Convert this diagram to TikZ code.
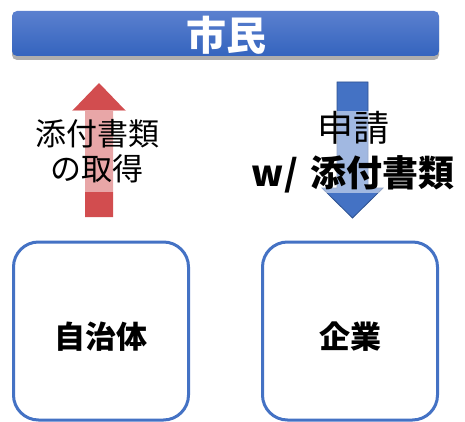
\documentclass[tikz,border=0pt]{standalone}
\usepackage{fontspec}
\newfontfamily\jp{Noto Sans CJK JP}
\usetikzlibrary{shadows}
\definecolor{bannerTop}{HTML}{5B80CF}
\definecolor{bannerBot}{HTML}{3464BE}
\definecolor{arrowRed}{HTML}{D24D4F}
\definecolor{arrowBlue}{HTML}{4472C4}
\definecolor{arrowBlueEdge}{HTML}{2F528F}
\definecolor{boxBlue}{HTML}{4472C4}
\tikzset{
  banner/.style={rounded corners=5pt, top color=bannerTop, bottom color=bannerBot,
    minimum width=427pt, minimum height=45pt, inner sep=0pt,
    drop shadow={shadow xshift=0pt, shadow yshift=-4pt, opacity=0.45, fill=black!70}},
  bannertext/.style={text=white, font=\jp\bfseries\fontsize{40}{40}\selectfont, inner sep=0pt},
  veil/.style={fill=white, fill opacity=0.5, text opacity=1, align=center, inner sep=0pt},
  orgbox/.style={draw=boxBlue, line width=3pt, rounded corners=25pt,
    minimum width=175pt, minimum height=178pt, inner sep=0pt},
  orgtext/.style={font=\jp\bfseries\fontsize{31}{31}\selectfont, inner sep=0pt}
}
\begin{document}
\begin{tikzpicture}[x=1pt,y=-1pt]
\useasboundingbox (0,0) rectangle (465,422);
% banner
\node[banner] (bar) at (225.5,33.5) {};
\node[bannertext] (citizen) at (226,35) {市民};
% red up arrow
\fill[arrowRed] (85,217) -- (85,111) -- (72,111) -- (99,83) -- (126,111) -- (113,111) -- (113,217) -- cycle;
\node[veil, minimum width=135pt, minimum height=82pt,
  font=\jp\fontsize{31}{35}\selectfont] (obtain) at (97,151) {添付書類\\の取得};
% blue down arrow
\filldraw[fill=arrowBlue, draw=arrowBlueEdge, line width=0.8pt]
  (337,82) -- (368,82) -- (368,188) -- (383,188) -- (352.5,218) -- (322,188) -- (337,188) -- cycle;
\node[veil, minimum width=220pt, minimum height=80pt,
  font=\jp\fontsize{36}{45}\selectfont] (apply) at (353,152) {申請\\{\bfseries w/\hspace{4pt} 添付書類}};
% boxes
\node[orgbox] (gov) at (101,331) {};
\node[orgtext] (govtext) at (101,337) {自治体};
\node[orgbox] (corp) at (350,331) {};
\node[orgtext] (corptext) at (350,337) {企業};
\end{tikzpicture}
\end{document}
